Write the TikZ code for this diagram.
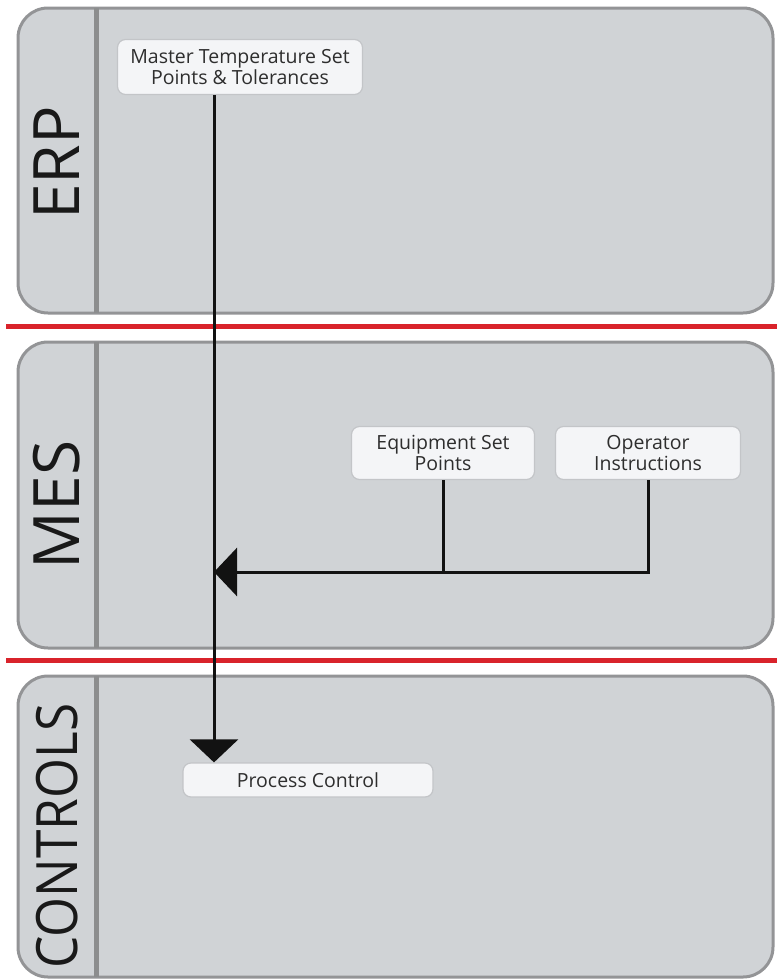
\documentclass[tikz,border=0pt]{standalone}
\usepackage{fontspec}
\setmainfont{Open Sans}
\usetikzlibrary{arrows.meta}
\definecolor{lanefill}{HTML}{D0D3D6}
\definecolor{laneline}{HTML}{939496}
\definecolor{sepred}{HTML}{D9232B}
\definecolor{boxfill}{HTML}{F4F5F7}
\definecolor{boxline}{HTML}{C3C5C8}
\definecolor{boxtext}{HTML}{2E2E2E}

\begin{document}
\begin{tikzpicture}[x=1pt,y=-1pt,
  lane/.style={draw=laneline,line width=3pt,fill=lanefill,rounded corners=30pt},
  divider/.style={draw=laneline!95!black,line width=5pt},
  sepline/.style={draw=sepred,line width=5pt},
  lanelabel/.style={rotate=90,font=\fontsize{64}{64}\selectfont,text=black!90,inner sep=0pt},
  stepbox/.style={draw=boxline,line width=1.2pt,fill=boxfill,rounded corners=8pt,
    align=center,font=\fontsize{19.5}{21}\selectfont,text=boxtext,inner sep=0pt},
  flow/.style={draw=black!93,line width=3pt,-{Triangle[length=23pt,width=48pt]}},
  wire/.style={draw=black!93,line width=3pt}]
  \useasboundingbox (0,0) rectangle (777,980);

  % swim lanes
  \draw[lane] (18,8) rectangle (773,313);
  \draw[lane] (18,342) rectangle (773,648);
  \draw[lane] (18,676) rectangle (773,977);
  \foreach \ltop/\lbot in {8/313,342/648,676/977}
    \draw[divider] (96,\ltop) -- (96,\lbot);
  \foreach \ysep in {326,660}
    \draw[sepline] (6,\ysep) -- (777,\ysep);

  \node[lanelabel] (erp) at (57,163) {ERP};
  \node[lanelabel] (mes) at (57,505) {MES};
  \node[lanelabel,font=\fontsize{57}{57}\selectfont] (controls) at (57,836) {\scalebox{0.9}[1]{CONTROLS}};

  % steps
  \node[stepbox,minimum width=245pt,minimum height=55pt] (mtsp) at (240,67) {Master Temperature Set\\Points \& Tolerances};
  \node[stepbox,minimum width=183pt,minimum height=53pt] (eqsp) at (443,453) {Equipment Set\\Points};
  \node[stepbox,minimum width=185pt,minimum height=53pt] (opins) at (648,453) {Operator\\Instructions};
  \node[stepbox,minimum width=250pt,minimum height=34pt] (pctl) at (308,780) {Process Control};

  \coordinate (trunk) at (214,0);
  \coordinate (mesjoin) at (214,572);

  \draw[flow] (mtsp.south -| trunk) -- (pctl.north -| trunk);
  \draw[flow] (opins.south) |- (mesjoin);
  \draw[wire] (eqsp.south) -- (eqsp.south |- mesjoin);
\end{tikzpicture}
\end{document}
